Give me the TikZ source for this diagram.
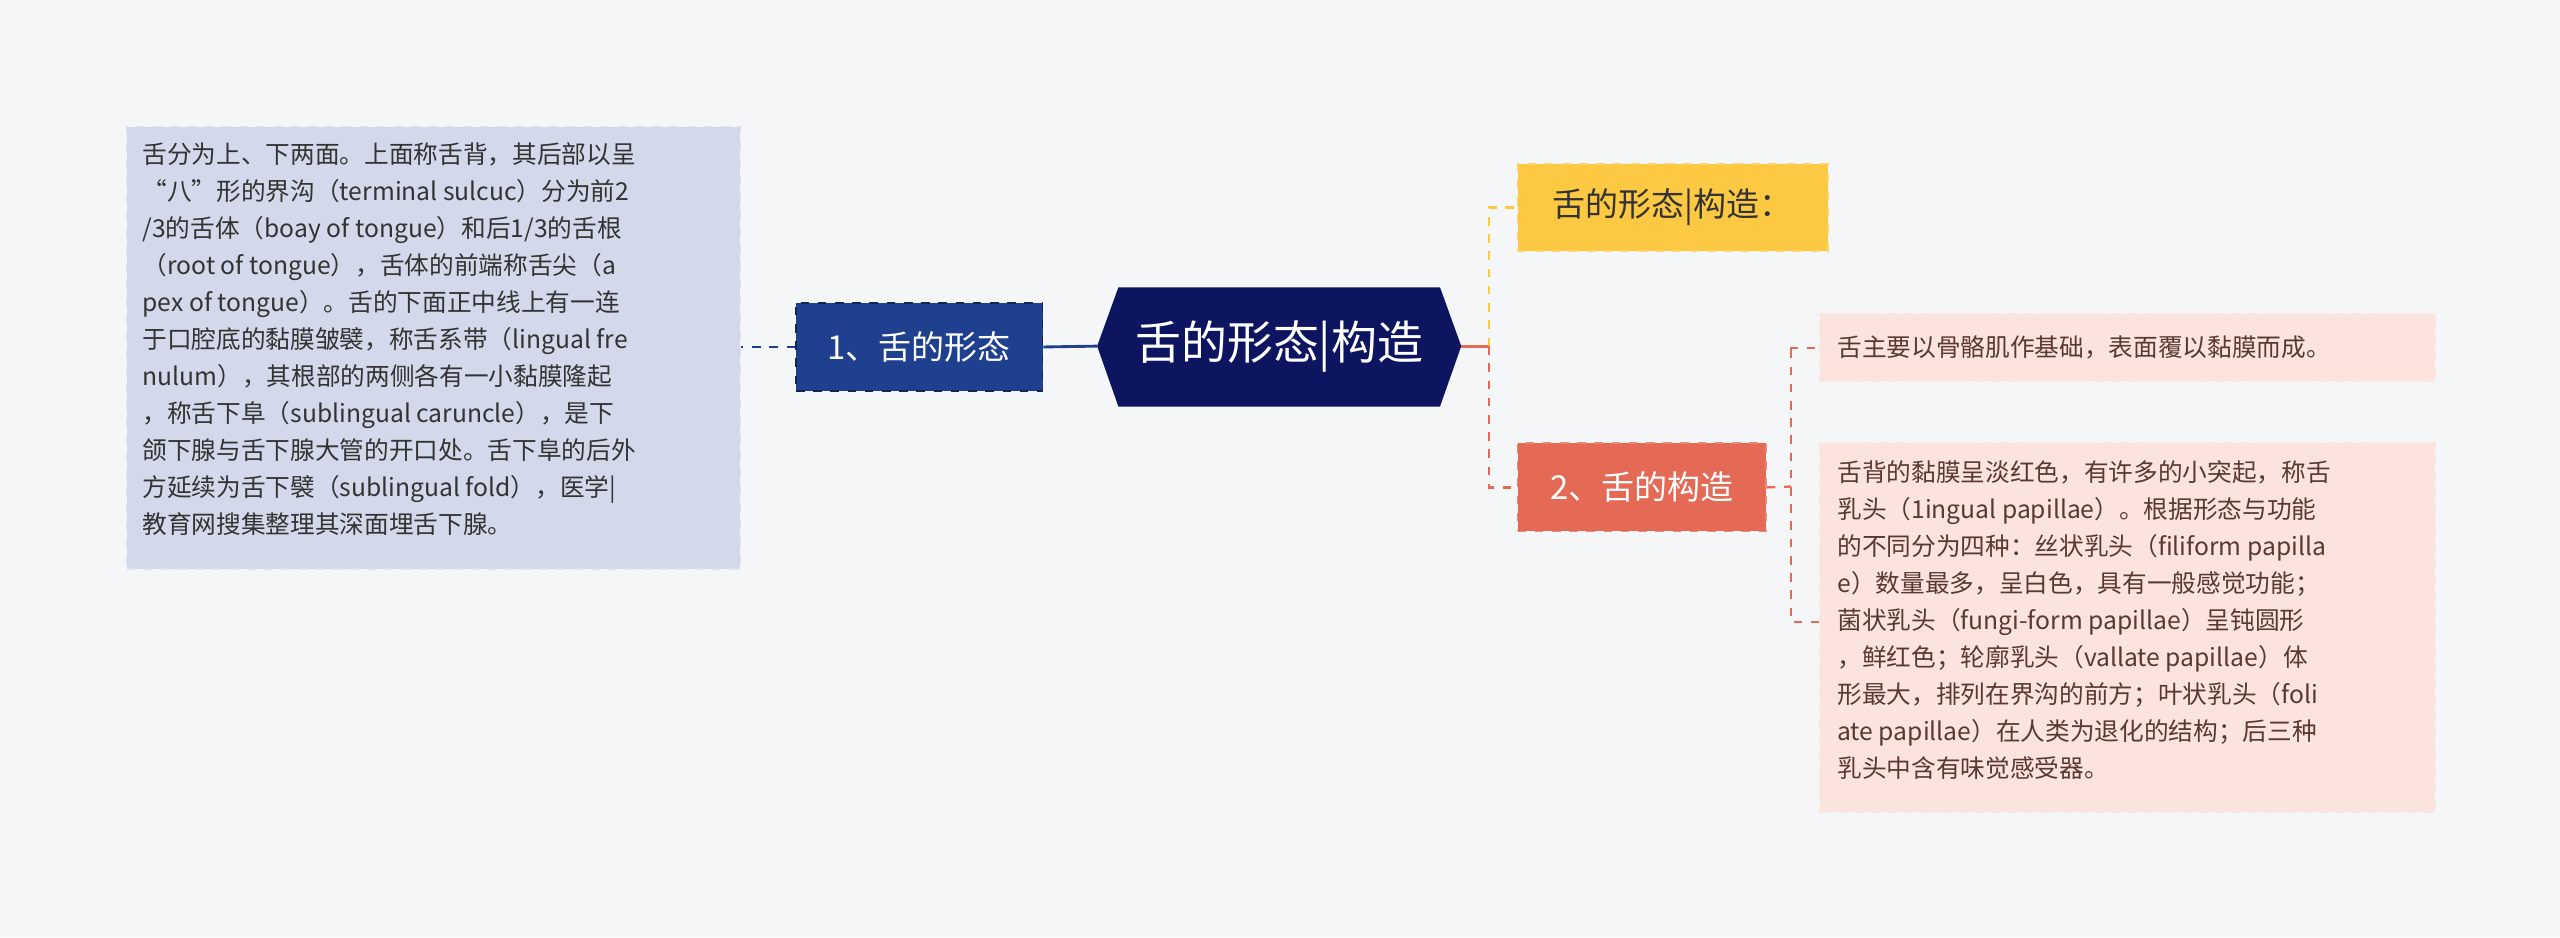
\documentclass[tikz,border=0pt]{standalone}
\usepackage{fontspec}
\setmainfont{Noto Sans CJK SC}
\usetikzlibrary{shapes.misc}
\definecolor{bg}{HTML}{F5F6F8}
\definecolor{navy}{HTML}{0D1560}
\definecolor{blue1}{HTML}{1F3F8F}
\definecolor{lblue}{HTML}{D3D9EA}
\definecolor{yel}{HTML}{FDC942}
\definecolor{ora}{HTML}{E46A55}
\definecolor{pink}{HTML}{FBE3DE}
\definecolor{txt}{HTML}{333333}
\definecolor{rtxt}{HTML}{5A3A30}
\begin{document}
\begin{tikzpicture}[x=0.02cm,y=-0.02cm,
  box/.style={draw, dashed, line width=0.6pt, inner sep=0pt, anchor=north west, align=left},
  small/.style={font=\fontsize{8.6}{12.9}\selectfont}]
\fill[bg] (0,0) rectangle (1568,574);
\useasboundingbox (0,0) rectangle (1568,574);
% center
\fill[navy] (685,176) -- (882,176) -- (895,212) -- (882,249) -- (685,249) -- (672,212) -- cycle;
\node[text=white, font=\fontsize{16}{18}\selectfont] (c) at (783.5,212) {舌的形态|构造};
\coordinate (cl) at (672,212); \coordinate (cr) at (895,212);
% node1
\node[box, draw=blue1!60!black, fill=blue1, text=white, minimum width=151*0.02cm, minimum height=54*0.02cm, align=center, font=\fontsize{11.5}{13}\selectfont] (n1) at (487,185) {1、舌的形态};
\node[box, draw=lblue!80!white, fill=lblue, text=txt, small, minimum width=376*0.02cm, minimum height=271*0.02cm, inner sep=0pt] (l) at (77,77) {};
\node[anchor=north west, small, text=txt, align=left, inner sep=0pt] at (87,87) {舌分为上、下两面。上面称舌背，其后部以呈\\
“八”形的界沟（terminal sulcuc）分为前2\\
/3的舌体（boay of tongue）和后1/3的舌根\\
（root of tongue），舌体的前端称舌尖（a\\
pex of tongue）。舌的下面正中线上有一连\\
于口腔底的黏膜皱襞，称舌系带（lingual fre\\
nulum），其根部的两侧各有一小黏膜隆起\\
，称舌下阜（sublingual caruncle），是下\\
颌下腺与舌下腺大管的开口处。舌下阜的后外\\
方延续为舌下襞（sublingual fold），医学|\\
教育网搜集整理其深面埋舌下腺。};
\draw[blue1, line width=1pt] (cl) -- (n1.east);
\draw[blue1, line width=0.8pt, dashed] (n1.west) -- (l.east |- n1.west);
% right
\node[box, draw=yel!80!white, fill=yel, text=txt, minimum width=190*0.02cm, minimum height=53*0.02cm, align=center, font=\fontsize{11.5}{13}\selectfont] (y) at (929,100) {舌的形态|构造：};
\node[box, draw=ora!80!white, fill=ora, text=white, minimum width=152*0.02cm, minimum height=54*0.02cm, align=center, font=\fontsize{11.5}{13}\selectfont] (n2) at (929,271) {2、舌的构造};
\coordinate (j) at (912,212);
\draw[ora, line width=1pt] (cr) -- (j);
\draw[yel, line width=0.8pt, dashed] (j) |- (y.west);
\draw[ora, line width=0.8pt, dashed] (j) |- (n2.west);
\node[box, draw=pink, fill=pink, text=rtxt, small, minimum width=377*0.02cm, minimum height=41*0.02cm, inner sep=0pt] (r1) at (1114,192) {};
\node[anchor=west, small, text=rtxt, inner sep=0pt] at (1125,213) {舌主要以骨骼肌作基础，表面覆以黏膜而成。};
\node[box, draw=pink, fill=pink, text=rtxt, small, minimum width=377*0.02cm, minimum height=226*0.02cm, inner sep=0pt] (r2) at (1114,271) {};
\node[anchor=north west, small, text=rtxt, align=left, inner sep=0pt] at (1125,282) {舌背的黏膜呈淡红色，有许多的小突起，称舌\\
乳头（1ingual papillae）。根据形态与功能\\
的不同分为四种：丝状乳头（filiform papilla\\
e）数量最多，呈白色，具有一般感觉功能；\\
菌状乳头（fungi-form papillae）呈钝圆形\\
，鲜红色；轮廓乳头（vallate papillae）体\\
形最大，排列在界沟的前方；叶状乳头（foli\\
ate papillae）在人类为退化的结构；后三种\\
乳头中含有味觉感受器。};
\coordinate (k) at (1097,298);
\draw[ora, line width=0.8pt, dashed] (n2.east) -- (k);
\draw[ora, line width=0.8pt, dashed] (1097,214) |- (r1.west);
\draw[ora, line width=0.8pt, dashed] (1097,214) -- (1097,381) -- (r2.west |- 0,381);
\end{tikzpicture}
\end{document}
